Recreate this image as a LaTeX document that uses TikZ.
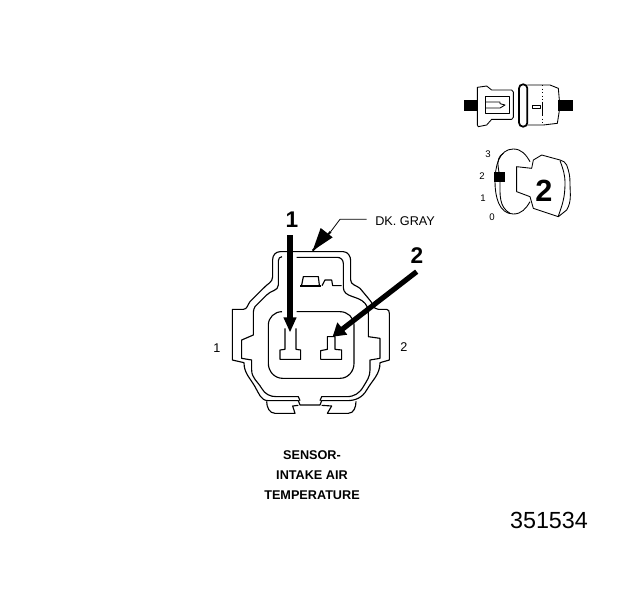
\documentclass[tikz,border=0pt]{standalone}
\usepackage{fontspec}
\setmainfont{Liberation Sans}
\tikzset{
  part/.style={line width=0.85pt,line join=round},
  thin part/.style={line width=0.65pt,line join=round},
  pointer/.style={fill=black,draw=none},
  small label/.style={font=\fontsize{9.5pt}{11pt}\selectfont,inner sep=0pt},
  title label/.style={font=\fontsize{9.5pt}{11pt}\selectfont\bfseries,inner sep=0pt},
  big label/.style={font=\fontsize{17pt}{19pt}\selectfont\bfseries,inner sep=0pt},
  pos label/.style={font=\fontsize{7.2pt}{8pt}\selectfont,inner sep=0pt}
}
\begin{document}
\begin{tikzpicture}[x=0.75pt,y=-0.75pt]
    \useasboundingbox (0,0) rectangle (624,600);
    \fill[white] (0,0) rectangle (624,600);
    %% connector, in zoomed units
    \begin{scope}[shift={(200,200)},x=0.25pt,y=-0.25pt]
    % outer shell
    \draw[part] (240,155) -- (430,155) to[out=0,in=90] (452,182) -- (452,240)
        to[out=-90,in=140] (480,265) -- (505,295) to[out=-40,in=180] (535,328) -- (560,328)
        to[out=0,in=90] (568,340) -- (568,480) -- (540,488)
        to[out=-90,in=60] (500,570) to[out=-120,in=0] (440,602) -- (365,602) -- (360,615)
        -- (300,615) -- (295,602) -- (205,602) to[out=180,in=-60] (165,560)
        to[out=120,in=-90] (132,488) -- (97,480) -- (97,328) -- (130,328)
        to[out=0,in=-130] (150,305) -- (190,265) to[out=50,in=-90] (218,230) -- (218,178)
        to[out=90,in=180] (240,155);
    % inner shell
    \draw[part] (290,172) -- (412,172) to[out=0,in=90] (430,190) -- (430,262)
        to[out=-90,in=130] (495,310) to[out=-50,in=90] (505,350) -- (505,410) -- (540,415)
        -- (540,475) -- (510,480) -- (510,510) to[out=-90,in=60] (490,560)
        to[out=-120,in=0] (440,590) -- (365,590) -- (360,602);
    \draw[part] (300,602) -- (295,590) -- (230,590) to[out=180,in=-60] (185,565)
        to[out=120,in=-90] (155,510) -- (155,480) -- (125,475) -- (125,420) -- (160,405)
        -- (160,350) to[out=90,in=-120] (165,320) -- (200,285) to[out=50,in=-90] (235,255)
        -- (235,182) to[out=90,in=180] (246,170);
    % cavity
    \draw[part] (290,335) -- (420,335) to[out=0,in=90] (462,375) -- (462,490)
        to[out=-90,in=0] (420,535) -- (248,535) to[out=180,in=-90] (205,490) -- (205,375)
        to[out=90,in=180] (246,335);
    % bottom tab
    \draw[part] (200,604) to[out=-90,in=180] (225,640) -- (285,640) -- (278,618) -- (295,616);
    \draw[part] (365,616) -- (395,618) -- (382,640) -- (445,640) to[out=0,in=-90] (468,604);
    % pins
    \draw[part] (255,385) -- (255,448) -- (240,450) -- (240,478) -- (302,478) -- (302,450)
        -- (288,448) -- (288,385);
    \draw[part] (382,410) -- (382,448) -- (362,452) -- (362,478) -- (425,478) -- (425,450)
        -- (405,448) -- (405,410) -- cycle;
    % latch
    \draw[part] (305,255) -- (310,230) -- (355,230) -- (358,255);
    \draw[line width=1.5pt] (300,257) -- (362,257);
    \draw[part] (366,257) -- (375,240) -- (395,240) -- (398,257) -- (425,257);
    % arrows
    \coordinate (arrow1a) at (270,105); \coordinate (arrow1b) at (270,396);
    \coordinate (arrow2a) at (650,215); \coordinate (arrow2b) at (398,410);
    \coordinate (arrow3a) at (392,95);  \coordinate (arrow3b) at (338,152);
    \coordinate (lead1) at (500,58); \coordinate (lead2) at (420,58);
    \draw[line width=3.9pt,shorten >=8pt] (arrow1a) -- (arrow1b);
    \fill[pointer] (arrow1b) -- (250,352) -- (290,352) -- cycle;
    \draw[line width=3.9pt,shorten >=8pt] (arrow2a) -- (arrow2b);
    \fill[pointer] (arrow2b) -- (412,367) -- (442,404) -- cycle;
    \draw[line width=0.6pt] (lead1) -- (lead2) -- (arrow3a);
    \draw[line width=1.5pt] (arrow3a) -- (arrow3b);
    \fill[pointer] (arrow3b) -- (362,84) -- (398,112) -- cycle;
    \end{scope}
    \node[big label] (num1) at (292,220) {1};
    \node[big label] (num2) at (417,256) {2};
    \node[small label,anchor=west] (wire) at (375,221) {DK. GRAY};
    \node[small label] (side1) at (217,348) {1};
    \node[small label] (side2) at (404,347) {2};
    \node[title label] (title1) at (312,455) {SENSOR-};
    \node[title label] (title2) at (312,475) {INTAKE AIR};
    \node[title label] (title3) at (312,495) {TEMPERATURE};
    \node[font=\fontsize{17.5pt}{20pt}\selectfont,inner sep=0pt] (partno) at (549,520) {351534};
    %% switch detail, in zoomed units
    \begin{scope}[shift={(450,70)},x=0.25pt,y=-0.25pt]
    \fill[black] (42,90) rectangle (82,122);
    \fill[black] (325,90) rectangle (368,122);
    \draw[thin part] (82,52) -- (110,48) -- (125,60) -- (185,60) -- (190,66) -- (190,142)
        -- (185,148) -- (125,148) -- (110,165) -- (85,170) -- (82,165) -- cycle;
    \draw[thin part] (178,80) -- (105,80) -- (105,130) -- (178,130) -- cycle;
    \draw[thin part] (108,96) -- (150,96) -- (150,101) -- (165,105) -- (150,114) -- (108,114);
    \draw[line width=1.3pt,rounded corners=3pt] (207,43) rectangle (232,170);
    \draw[thin part] (232,45) -- (300,45) -- (325,55) -- (328,90);
    \draw[thin part] (328,122) -- (322,160) -- (280,165) -- (232,165);
    \draw[thin part,dotted] (278,45) -- (278,95);
    \draw[thin part] (278,95) -- (278,135);
    \draw[thin part,dotted] (278,135) -- (278,165);
    \draw[thin part] (247,105) rectangle (270,115);
    % selector
    \draw[thin part] (240,275) to[out=120,in=0] (190,237) to[out=180,in=90] (135,335)
        to[out=-90,in=180] (190,432) to[out=0,in=-120] (240,395);
    \draw[thin part] (160,250) to[out=-150,in=90] (150,335) to[out=-90,in=150] (180,430);
    \draw[thin part] (200,290) -- (245,295) -- (250,270) -- (275,255) -- (330,270)
        to[out=-20,in=110] (350,285) to[out=-70,in=90] (360,340) to[out=-90,in=60] (350,420)
        -- (325,440) -- (250,415) -- (240,380) -- (200,365) -- cycle;
    \draw[thin part] (330,272) to[out=-70,in=90] (345,340) to[out=-90,in=70] (325,438);
    \fill[black] (132,307) rectangle (165,335);
    \end{scope}
    \node[pos label] (pos3) at (488,154) {3};
    \node[pos label] (pos2) at (482,176) {2};
    \node[pos label] (pos1) at (483,198) {1};
    \node[pos label] (pos0) at (492,217) {0};
    \node[font=\fontsize{23pt}{26pt}\selectfont\bfseries,inner sep=0pt] (keynum) at (544,191) {2};
\end{tikzpicture}
\end{document}
